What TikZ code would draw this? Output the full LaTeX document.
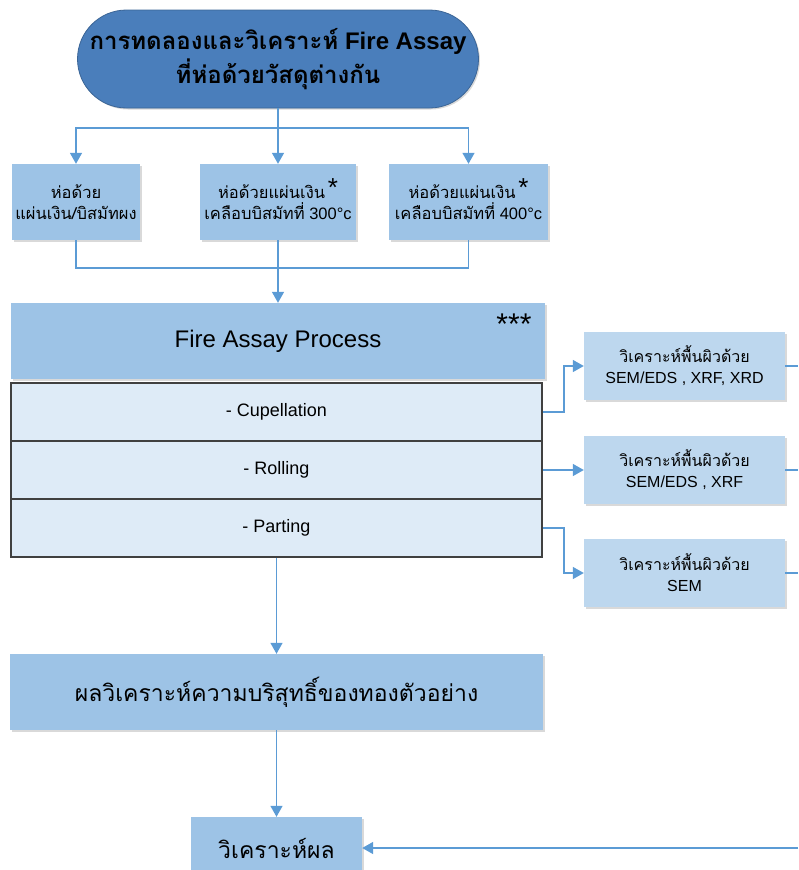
\documentclass[tikz,border=0pt]{standalone}
\usepackage{fontspec}
\setmainfont{Liberation Sans}
\newfontfamily\thaifont[Script=Thai]{Loma}
\usetikzlibrary{arrows.meta,shadows}
\definecolor{headblue}{HTML}{4A7EBB}
\definecolor{boxblue}{HTML}{9DC3E6}
\definecolor{scanblue}{HTML}{BDD7EE}
\definecolor{rowblue}{HTML}{DEEBF7}
\definecolor{lineblue}{HTML}{5B9BD5}

\begin{document}
\begin{tikzpicture}[x=1pt, y=-1pt,
    block/.style={rectangle, fill=boxblue, align=center, inner sep=2pt,
      drop shadow={shadow xshift=1.5pt, shadow yshift=-1.5pt, opacity=0.3}},
    wrapbox/.style={block, minimum height=76pt, font=\fontsize{16.5}{21}\selectfont},
    scanbox/.style={block, fill=scanblue, minimum width=201pt, minimum height=68pt,
      font=\fontsize{16}{21}\selectfont},
    row/.style={rectangle, draw=black!75, line width=1.5pt, fill=rowblue,
      minimum width=531pt, minimum height=58pt, font=\fontsize{18}{22}\selectfont},
    flow/.style={draw=lineblue, line width=1.5pt, -{Triangle[width=12pt,length=11pt]}},
    link/.style={draw=lineblue, line width=1.5pt}]
  \useasboundingbox (0,0) rectangle (798,870);
  \clip (0,0) rectangle (798,870);

  % Draw blocks
  \node[block, fill=headblue, draw=headblue!80!black, line width=0.8pt, rounded corners=49pt,
    minimum width=401pt, minimum height=98pt,
    font=\bfseries\fontsize{24}{34}\selectfont] (title) at (278,59)
    {{\thaifont การทดลองและวิเคราะห์} Fire Assay\\{\thaifont ที่ห่อด้วยวัสดุต่างกัน}};
  \node[wrapbox, minimum width=128pt] (wrapA) at (76,202)
    {{\thaifont ห่อด้วย}\\{\thaifont แผ่นเงิน/บิสมัทผง}};
  \node[wrapbox, minimum width=156pt] (wrapB) at (278,202)
    {{\thaifont ห่อด้วยแผ่นเงิน}\,\smash{\raisebox{2pt}{\fontsize{26}{26}\selectfont *}}\\{\thaifont เคลือบบิสมัทที่} 300°c};
  \node[wrapbox, minimum width=159pt] (wrapC) at (468.5,202)
    {{\thaifont ห่อด้วยแผ่นเงิน}\,\smash{\raisebox{2pt}{\fontsize{26}{26}\selectfont *}}\\{\thaifont เคลือบบิสมัทที่} 400°c};

  \node[block, minimum width=534pt, minimum height=76pt, font=\fontsize{24}{28}\selectfont]
    (proc) at (278,341) {Fire Assay Process};
  \node[anchor=base, font=\fontsize{30}{30}\selectfont] (stars) at (514,334) {***};
  \node[row] (cupel) at (276.5,412) {- Cupellation};
  \node[row] (rolling) at (276.5,470) {- Rolling};
  \node[row] (parting) at (276.5,528) {- Parting};

  \node[scanbox] (scanA) at (684.5,366) {{\thaifont วิเคราะห์พื้นผิวด้วย}\\SEM/EDS , XRF, XRD};
  \node[scanbox] (scanB) at (684.5,470) {{\thaifont วิเคราะห์พื้นผิวด้วย}\\SEM/EDS , XRF};
  \node[scanbox] (scanC) at (684.5,573) {{\thaifont วิเคราะห์พื้นผิวด้วย}\\SEM};

  \node[block, minimum width=533pt, minimum height=76pt, font=\thaifont\fontsize{23}{28}\selectfont]
    (result) at (276.5,692) {ผลวิเคราะห์ความบริสุทธิ์ของทองตัวอย่าง};
  \node[block, minimum width=171pt, minimum height=62pt, font=\thaifont\fontsize{23}{28}\selectfont]
    (judge) at (276.5,848) {วิเคราะห์ผล};

  % free ends at the picture edge
  \coordinate (fork) at (278,128);
  \coordinate (merge) at (278,268);
  \coordinate (outA) at (798,366);
  \coordinate (outB) at (798,470);
  \coordinate (outC) at (798,573);
  \coordinate (backIn) at (798,848);

  % Draw connectors
  \draw[link] (title) -- (fork);
  \draw[flow] (fork) -| (wrapA);
  \draw[flow] (fork) -- (wrapB);
  \draw[flow] (fork) -| (wrapC);
  \draw[link] (wrapA) |- (merge) -| (wrapC);
  \draw[flow] (wrapB) -- (proc);
  \draw[flow] (cupel.east) -- ++(21,0) |- (scanA);
  \draw[flow] (rolling) -- (scanB);
  \draw[flow] (parting.east) -- ++(21,0) |- (scanC);
  \draw[link] (scanA) -- (outA);
  \draw[link] (scanB) -- (outB);
  \draw[link] (scanC) -- (outC);
  \draw[flow] (parting) -- (result);
  \draw[flow] (result) -- (judge);
  \draw[flow] (backIn) -- (judge);
\end{tikzpicture}
\end{document}
